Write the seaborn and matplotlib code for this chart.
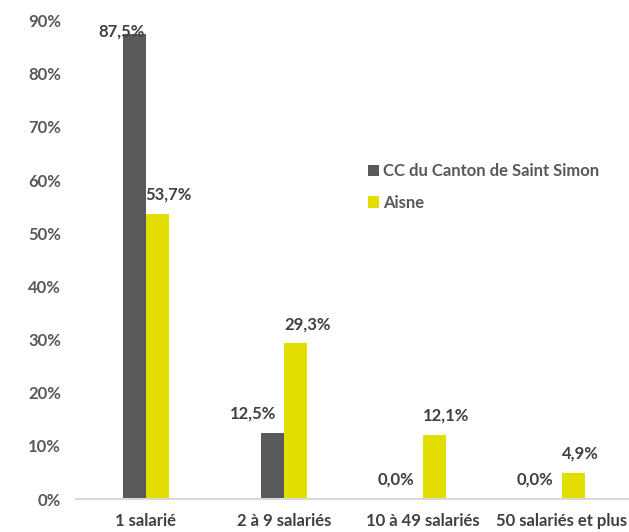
import numpy as np
import pandas as pd
import matplotlib
matplotlib.use("Agg")
import matplotlib.pyplot as plt
import seaborn as sns

categories = ["1 salarié", "2 à 9 salariés", "10 à 49 salariés", "50 salariés et plus"]
series = ["CC du Canton de Saint Simon", "Aisne"]
cc_values = [87.5, 12.5, 0.0, 0.0]
aisne_values = [53.7, 29.3, 12.1, 4.9]
y_ticks = [0, 10, 20, 30, 40, 50, 60, 70, 80, 90]

df = pd.DataFrame({
    "cat": categories * 2,
    "serie": [series[0]] * 4 + [series[1]] * 4,
    "val": cc_values + aisne_values,
})

sns.set_theme(style="white")
plt.rcParams["font.family"] = ["Lato", "DejaVu Sans"]
plt.rcParams["font.weight"] = "bold"

colors = ["#595959", "#E2DE00"]
fs = 12

fig = plt.figure(figsize=(6.29, 5.32), dpi=100)
ax = fig.add_axes([76.4 / 629, 33 / 532, (631 - 76.4) / 629, (499 - 20.7) / 532])

sns.barplot(data=df, x="cat", y="val", hue="serie", palette=colors,
            width=0.332, saturation=1, linewidth=0, ax=ax, legend=True)

ax.set_ylim(0, 90)
ax.set_yticks(y_ticks)
ax.set_yticklabels([f"{t}%" for t in y_ticks], color="#595959", fontsize=fs, fontweight="bold")
ax.set_xticks(range(len(categories)))
ax.set_xticklabels(categories, color="#404040", fontsize=fs, fontweight="bold")
ax.tick_params(axis="y", length=0, pad=11)
ax.tick_params(axis="x", length=0, pad=10)
ax.set_xlabel("")
ax.set_ylabel("")

for s in ["top", "right", "left"]:
    ax.spines[s].set_visible(False)
ax.spines["bottom"].set_color("#D9D9D9")
ax.spines["bottom"].set_linewidth(1.5)
ax.spines["bottom"].set_clip_on(False)

# value labels
for k, cont in enumerate(ax.containers):
    for bar in cont:
        h = bar.get_height()
        txt = f"{h:.1f}".replace(".", ",") + "%"
        if k == 0:
            x = bar.get_x() + bar.get_width()
            ha, dx = "right", -6
        else:
            x = bar.get_x()
            ha, dx = "left", 0
        if h > 84:
            ax.annotate(txt, (x, 90), xytext=(-1, -2), textcoords="offset points",
                        ha=ha, va="top", fontsize=fs, fontweight="bold", color="#404040")
        else:
            ax.annotate(txt, (x, h), xytext=(dx, 8), textcoords="offset points",
                        ha=ha, va="bottom", fontsize=fs, fontweight="bold", color="#404040")

leg = ax.legend(loc="upper left", bbox_to_anchor=(368 / 629, 1 - 163 / 532),
                bbox_transform=fig.transFigure, frameon=False, borderpad=0,
                borderaxespad=0, handlelength=0.65, handleheight=0.65,
                handletextpad=0.25, labelspacing=0.95, fontsize=fs)
for t in leg.get_texts():
    t.set_color("#595959")
    t.set_fontweight("bold")

fig.savefig("out.png", dpi=100)
